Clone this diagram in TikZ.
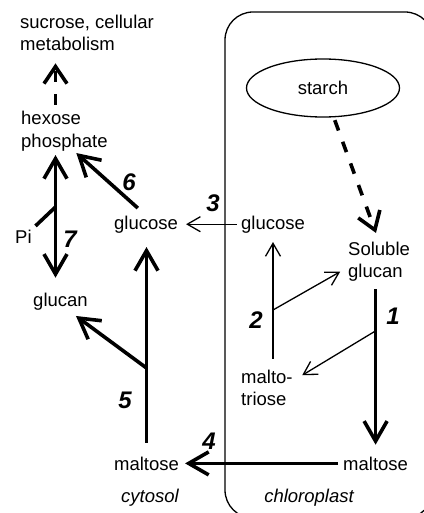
\documentclass[tikz,border=0pt]{standalone}
\usepackage{fontspec}
\setmainfont{Liberation Sans}
\usetikzlibrary{arrows.meta,shapes.geometric}

\begin{document}
\begin{tikzpicture}[x=1pt,y=-1pt,
    every node/.style={font=\fontsize{18.5}{22}\selectfont, inner sep=0pt},
    place/.style={font=\fontsize{18.5}{22}\selectfont\itshape},
    num/.style={font=\fontsize{24}{24}\selectfont\bfseries\itshape},
    heavy/.style={line width=3.6pt},
    light/.style={line width=1.3pt},
    bigtip/.style={-{Straight Barb[length=20pt,width=23pt]}},
    smalltip/.style={-{Straight Barb[length=13pt,width=15pt]}},
    dashtip/.style={-{Straight Barb[length=17pt,width=23pt]}},
    dashes/.style={dash pattern=on 11pt off 12pt}]
  \useasboundingbox (0,0) rectangle (423,513);
  % chloroplast envelope
  \draw[light, rounded corners=28pt] (225,12) rectangle (433,518);
  \node[draw, ellipse, light, minimum width=153pt, minimum height=58pt] (starch) at (323,88) {starch};
  % metabolites (multi-line nodes sit on their last baseline)
  \node[anchor=base west, align=left] (sucr) at (20,51) {sucrose, cellular\\metabolism};
  \node[anchor=base west, align=left] (hexp) at (21,147) {hexose\\phosphate};
  \node[anchor=base west] (pi) at (15,243) {Pi};
  \node[anchor=base] (glcn) at (60.5,306) {glucan};
  \node[anchor=base] (glucC) at (146,229) {glucose};
  \node[anchor=base] (glucR) at (273,229) {glucose};
  \node[anchor=base] (maltC) at (146.5,470) {maltose};
  \node[anchor=base west] (maltR) at (343,470) {maltose};
  \node[anchor=base west, align=left] (solg) at (348,277) {Soluble\\glucan};
  \node[anchor=base west, align=left] (mtri) at (241,405) {malto-\\triose};
  \node[anchor=base, place] (cyto) at (150,502) {cytosol};
  \node[anchor=base, place] (chlo) at (309,502) {chloroplast};
  % step numbers
  \node[num] (n1) at (393,316) {1};
  \node[num] (n2) at (256,320) {2};
  \node[num] (n3) at (213,203) {3};
  \node[num] (n4) at (209,441) {4};
  \node[num] (n5) at (125,400) {5};
  \node[num] (n6) at (129,182) {6};
  \node[num] (n7) at (70,239) {7};
  % branch points
  \coordinate (axis) at (55.5,0);
  \coordinate (j7) at (55.5,207);
  \coordinate (j5) at (146.5,368);
  \coordinate (j1) at (375.4,331);
  \coordinate (j2) at (273,310);
  % chloroplast
  \draw[heavy, dashes, dashtip, shorten <=3pt, shorten >=9pt] (starch) -- (solg.north);
  \draw[heavy, bigtip, shorten <=8pt, shorten >=11.7pt] (solg.south -| maltR.north) -- (maltR.north);
  \draw[light, smalltip, shorten >=11pt] (j1) -- (mtri.14);
  \draw[light, smalltip, shorten <=10.7pt, shorten >=9pt] (mtri.north -| glucR.south) -- (glucR.south);
  \draw[light, smalltip, shorten >=9pt] (j2) -- (solg.191);
  \draw[light, smalltip, shorten <=4pt, shorten >=8pt] (glucR.west) -- (glucC.east);
  \draw[heavy, bigtip, shorten <=5pt, shorten >=6pt] (maltR.west) -- (maltC.east);
  % cytosol
  \draw[heavy, bigtip, shorten <=13.7pt, shorten >=14pt] (maltC.north) -- (maltC.north |- glucC.south);
  \draw[heavy, bigtip, shorten >=10pt] (j5) -- (glcn.310);
  \draw[heavy, bigtip, shorten <=11pt, shorten >=3pt] (glucC.north) -- (hexp.296);
  \draw[heavy, dashes, dashtip, shorten <=6.7pt, shorten >=12pt] (hexp.north -| axis) -- (sucr.south -| axis);
  \draw[heavy, {Straight Barb[length=20pt,width=23pt]}-{Straight Barb[length=20pt,width=23pt]},
    shorten <=4pt, shorten >=14.7pt] (hexp.south -| axis) -- (glcn.north -| axis);
  \draw[heavy, shorten <=5pt] (pi.north east) -- (j7);
\end{tikzpicture}
\end{document}
